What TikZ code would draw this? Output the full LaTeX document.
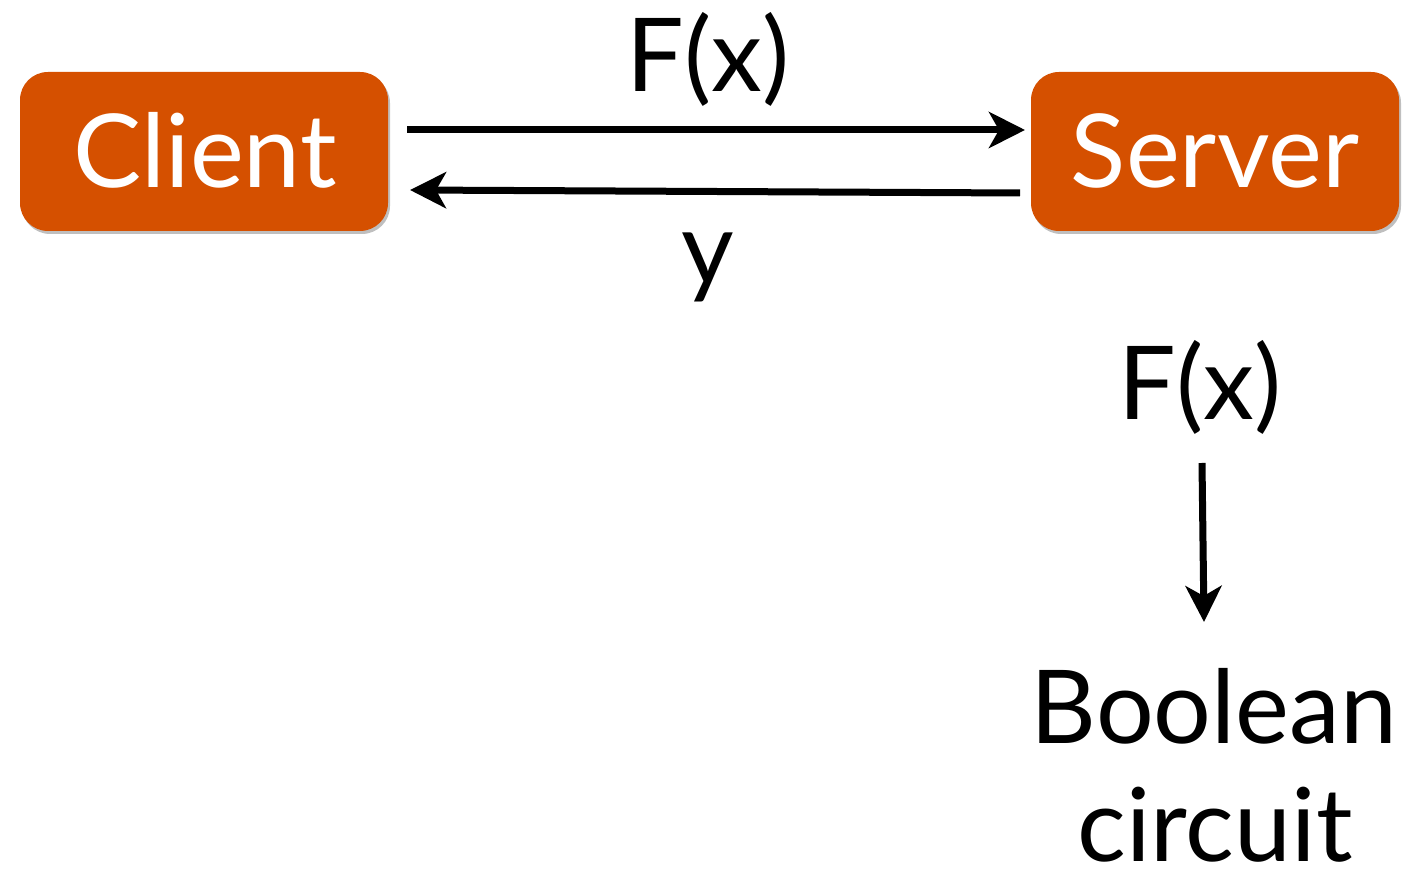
\documentclass[tikz,border=0pt]{standalone}
\usepackage{fontspec}
\setmainfont{Lato}
\usetikzlibrary{arrows.meta,shadows}
\definecolor{boxorange}{RGB}{213,80,0}
\begin{document}
\begin{tikzpicture}[x=1pt,y=1pt,
  party/.style={draw=none,fill=boxorange,rounded corners=28pt,
    minimum width=368pt,minimum height=159pt,inner sep=0pt,
    drop shadow={shadow xshift=2pt,shadow yshift=-3pt,opacity=0.25,fill=black}},
  bigtext/.style={font=\fontsize{102}{110}\selectfont,inner sep=0pt,anchor=base},
  flow/.style={line width=7pt,-{Stealth[length=36pt,width=36pt,inset=10pt]}}]
  \useasboundingbox (0,0) rectangle (1402,883);
  % the two parties
  \node[party] (client) at (204,731.5) {};
  \node[party] (server) at (1215,731.5) {};
  \node[bigtext,text=white] (clientlbl) at (205,695) {Client};
  \node[bigtext,text=white] (serverlbl) at (1215,695) {Server};
  % messages exchanged
  \coordinate (c1) at (407,753);
  \coordinate (s1) at (1025,753);
  \coordinate (s2) at (1020,690);
  \coordinate (c2) at (410,693);
  \draw[flow] (c1) -- (s1);
  \draw[flow] (s2) -- (c2);
  \node[bigtext] (fx) at (708,791) {F(x)};
  \node[bigtext] (y) at (708,598) {y};
  % compiling the function
  \node[bigtext] (fx2) at (1200,463) {F(x)};
  \node[bigtext] (bool) at (1214,139) {Boolean};
  \node[bigtext] (circ) at (1215,21) {circuit};
  \coordinate (d1) at (1202,420);
  \coordinate (d2) at (1204,261);
  \draw[flow] (d1) -- (d2);
\end{tikzpicture}
\end{document}
